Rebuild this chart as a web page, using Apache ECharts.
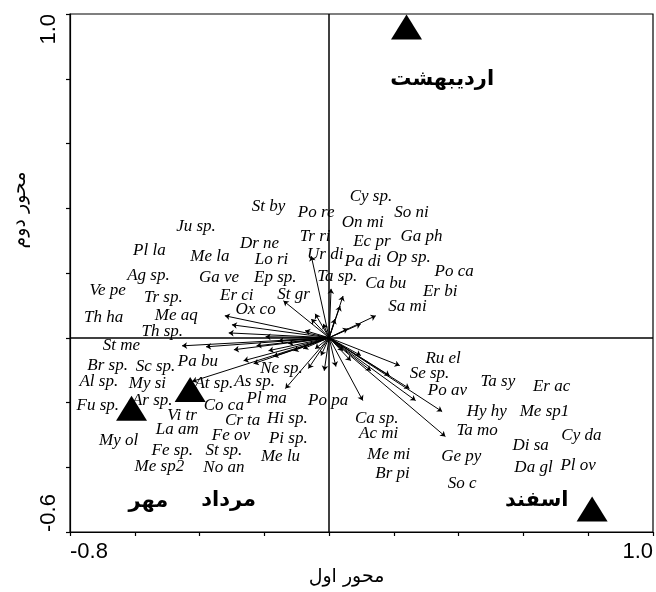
<!DOCTYPE html>
<html>
<head>
<meta charset="utf-8">
<script src="https://cdn.jsdelivr.net/npm/echarts@6/dist/echarts.min.js"></script>
<style>html,body{margin:0;padding:0;background:#fff}#c{width:656px;height:592px}</style>
</head>
<body>
<div id="c"></div>
<script>
// ---- data ----
const speciesNames = ['Cy sp.','So ni','On mi','Ec pr','Ga ph','Pa di','Op sp.','Ta sp.','Ca bu','Po ca','Er bi','Sa mi',
 'St by','Po re','Ju sp.','Dr ne','Tr ri','Ur di','Pl la','Me la','Lo ri','Ag sp.','Ga ve','Ep sp.','Ve pe','Tr sp.','Er ci','St gr','Ox co',
 'Th ha','Me aq','Th sp.','St me','Br sp.','Sc sp.','Pa bu','Ne sp.','Al sp.','My si','At sp.','As sp.','Fu sp.','Ar sp.','Co ca','Pl ma','Po pa',
 'Vi tr','Cr ta','Hi sp.','La am','Fe ov','Pi sp.','My ol','Fe sp.','St sp.','Me lu','Me sp2','No an',
 'Ru el','Se sp.','Po av','Ta sy','Er ac','Hy hy','Me sp1','Ca sp.','Ac mi','Ta mo','Cy da','Di sa','Me mi','Ge py','Da gl','Pl ov','Br pi','So c'];
const speciesX = [0.129,0.254,0.104,0.132,0.285,0.104,0.245,0.025,0.175,0.386,0.343,0.242,
 -0.187,-0.040,-0.411,-0.215,-0.043,-0.012,-0.555,-0.368,-0.178,-0.558,-0.340,-0.166,-0.684,-0.512,-0.285,-0.110,-0.227,
 -0.696,-0.472,-0.515,-0.641,-0.684,-0.536,-0.405,-0.147,-0.711,-0.561,-0.356,-0.230,-0.714,-0.546,-0.325,-0.193,-0.003,
 -0.454,-0.267,-0.129,-0.469,-0.303,-0.126,-0.650,-0.484,-0.325,-0.150,-0.524,-0.325,
 0.352,0.310,0.365,0.521,0.687,0.487,0.665,0.147,0.153,0.457,0.779,0.622,0.184,0.408,0.631,0.769,0.196,0.411];
const speciesY = [0.437,0.388,0.357,0.298,0.314,0.234,0.249,0.188,0.166,0.206,0.142,0.095,
 0.406,0.388,0.345,0.292,0.314,0.258,0.268,0.252,0.243,0.191,0.185,0.185,0.145,0.123,0.129,0.132,0.086,
 0.062,0.068,0.018,-0.025,-0.086,-0.089,-0.074,-0.095,-0.135,-0.142,-0.142,-0.135,-0.209,-0.194,-0.209,-0.188,-0.194,
 -0.240,-0.255,-0.249,-0.283,-0.302,-0.311,-0.317,-0.348,-0.348,-0.366,-0.397,-0.400,
 -0.065,-0.111,-0.163,-0.135,-0.151,-0.228,-0.228,-0.249,-0.295,-0.286,-0.302,-0.332,-0.360,-0.366,-0.400,-0.394,-0.418,-0.449];

const arrowTipX = [-0.322,-0.300,-0.310,-0.454,-0.380,-0.141,-0.055,0.006,0.043,0.034,0.144,0.098,
 -0.423,-0.294,-0.264,-0.233,-0.135,-0.043,-0.025,0.218,0.248,0.267,0.349,0.359,0.104,0.067,0.098,0.129,0.187,
 -0.074,-0.055,-0.043,-0.080,-0.126,-0.196,-0.156,-0.224,-0.187,-0.172,-0.110,-0.064,-0.015,0.043,0.021,-0.018,0.018,0.058];
const arrowTipY = [0.068,0.040,0.015,-0.025,-0.028,0.114,0.252,0.151,0.129,0.098,0.068,0.043,
 -0.135,-0.037,-0.071,-0.080,-0.157,-0.034,-0.055,-0.086,-0.157,-0.194,-0.228,-0.305,-0.194,-0.071,-0.055,-0.102,-0.117,
 0.022,0.058,0.074,-0.034,-0.018,0.003,-0.009,-0.025,-0.040,-0.058,-0.040,-0.095,-0.102,-0.040,-0.089,0.043,0.058,0.028];

const seasonNames = ['اردیبهشت','مهر','مرداد','اسفند'];
const seasonX = [0.239,-0.610,-0.429,0.812];
const seasonY = [0.960,-0.218,-0.160,-0.529];
const seasonLabelX = [0.349,-0.558,-0.310,0.641];
const seasonLabelY = [0.797,-0.505,-0.502,-0.502];

const xTickLabels = [-0.8, 1.0];
const yTickLabels = [-0.6, 1.0];
const xAxisName = 'محور اول';
const yAxisName = 'محور دوم';

// ---- chart ----
const chart = echarts.init(document.getElementById('c'), null, {renderer:'canvas'});
const near = (v, arr) => arr.some(a => Math.abs(a - v) < 1e-6);
const arrows = arrowTipX.map((x, i) => ({coords: [[0, 0], [x, arrowTipY[i]]]}));
const species = speciesNames.map((n, i) => [speciesX[i], speciesY[i], n]);
const tri = seasonX.map((x, i) => [x, seasonY[i]]);
const seasonLbl = seasonNames.map((n, i) => [seasonLabelX[i], seasonLabelY[i], n]);

chart.setOption({
  animation: false,
  grid: {left: 70, right: -1, top: 14, bottom: 59, show: true, borderColor: '#000', borderWidth: 1.2, backgroundColor: 'transparent'},
  xAxis: {
    type: 'value', min: -0.8, max: 1.0, interval: 0.2,
    splitLine: {show: false},
    axisLine: {show: true, onZero: false, lineStyle: {color: '#000', width: 1.2}},
    axisTick: {show: true, length: 4, lineStyle: {color: '#000', width: 1.2}},
    axisLabel: {
      color: '#000', fontFamily: 'Liberation Sans, Arial', fontSize: 22, margin: 9,
      showMinLabel: true, showMaxLabel: true, alignMinLabel: 'left', alignMaxLabel: 'right',
      formatter: v => near(v, xTickLabels) ? v.toFixed(1) : ''
    },
    name: xAxisName, nameLocation: 'middle', nameGap: 36,
    nameTextStyle: {color: '#000', fontFamily: 'DejaVu Sans', fontSize: 19, padding: [0, 30, 0, 0]}
  },
  yAxis: {
    type: 'value', min: -0.6, max: 1.0, interval: 0.2,
    splitLine: {show: false},
    axisLine: {show: true, onZero: false, lineStyle: {color: '#000', width: 1.2}},
    axisTick: {show: true, length: 4, lineStyle: {color: '#000', width: 1.2}},
    axisLabel: {
      color: '#000', fontFamily: 'Liberation Sans, Arial', fontSize: 22, margin: 10, rotate: 90,
      showMinLabel: true, showMaxLabel: true, alignMinLabel: 'left', alignMaxLabel: 'right',
      padding: 0,
      formatter: v => near(v, yTickLabels) ? v.toFixed(1) : ''
    },
    name: yAxisName, nameLocation: 'middle', nameGap: 40, nameRotate: 90,
    nameTextStyle: {color: '#000', fontFamily: 'DejaVu Sans', fontSize: 19, padding: [0, 0, 0, 126]}
  },
  series: [
    {
      type: 'lines', coordinateSystem: 'cartesian2d', silent: true,
      symbol: ['none', 'arrow'], symbolSize: 5,
      lineStyle: {color: '#000', width: 1, opacity: 1, curveness: 0},
      data: arrows,
      markLine: {
        silent: true, symbol: 'none', label: {show: false},
        lineStyle: {color: '#000', width: 1.5, type: 'solid', opacity: 1},
        data: [{xAxis: 0}, {yAxis: 0}]
      }
    },
    {
      type: 'scatter', symbolSize: 0, silent: true,
      itemStyle: {opacity: 1},
      data: species,
      label: {show: true, position: 'inside', formatter: p => p.data[2],
        color: '#000', fontFamily: 'Liberation Serif', fontStyle: 'italic', fontSize: 17}
    },
    {
      type: 'scatter', symbol: 'triangle', symbolSize: [31, 25], silent: true,
      itemStyle: {color: '#000', opacity: 1},
      data: tri
    },
    {
      type: 'scatter', symbolSize: 0, silent: true,
      itemStyle: {opacity: 1},
      data: seasonLbl,
      label: {show: true, position: 'inside', formatter: p => p.data[2],
        color: '#000', fontFamily: 'DejaVu Sans', fontWeight: 'bold', fontSize: 21}
    }
  ]
});
</script>
</body>
</html>
